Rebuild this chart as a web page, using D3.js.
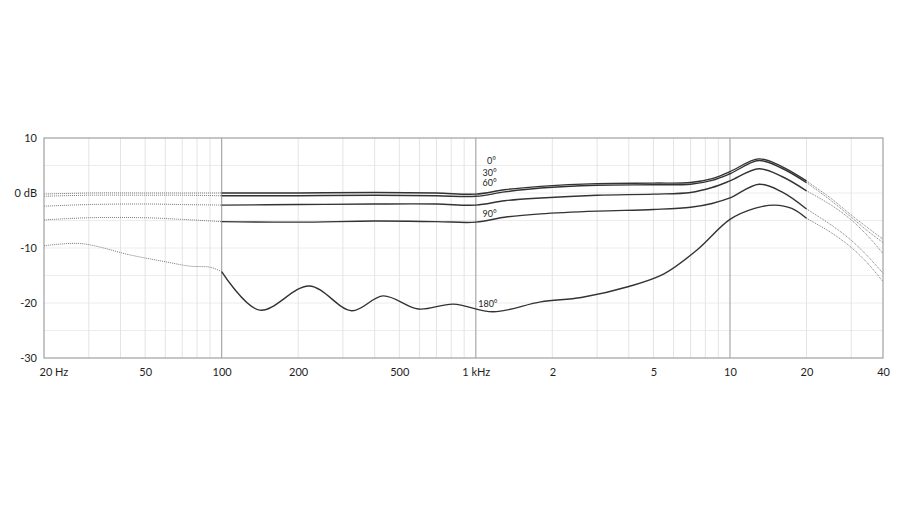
<!DOCTYPE html>
<html>
<head>
<meta charset="utf-8">
<script src="https://cdn.jsdelivr.net/npm/d3@7"></script>
<style>
  html, body { margin: 0; padding: 0; background: #fff; }
  svg text { font-family: Lato, "Open Sans", sans-serif; fill: #1e1e1e; }
</style>
</head>
<body>
<svg id="chart" width="906" height="511"></svg>
<script>
(function() {
  // frequency grids (Hz)
  var freqLow = [20, 30, 50, 70, 100];
  var freqMid = [100, 200, 400, 700, 1000, 1300, 1800, 3000, 5000, 7000, 8500, 10000, 13000, 16000, 20000];
  var freqHigh = [20000, 25000, 30000, 35000, 40000];
  var freq180Low = [20, 28, 44, 60, 75, 90, 100];
  var freq180Mid = [100, 141, 221, 325, 432, 594, 815, 1170, 1800, 2600, 4000, 5500, 7400, 10000, 12500, 15000, 17500, 20000];

  // response in dB per angle
  var deg0Low = [-0.2, 0.0, 0.0, 0.0, 0.0];
  var deg0Mid = [0.0, 0.0, 0.1, 0.0, -0.2, 0.6, 1.2, 1.7, 1.8, 1.9, 2.6, 3.9, 6.2, 4.8, 2.2];
  var deg0High = [2.2, -1.0, -4.0, -6.4, -8.4];

  var deg30Low = [-0.6, -0.4, -0.4, -0.4, -0.5];
  var deg30Mid = [-0.5, -0.5, -0.4, -0.5, -0.6, 0.2, 0.9, 1.4, 1.5, 1.6, 2.3, 3.5, 5.9, 4.5, 1.9];
  var deg30High = [1.9, -1.4, -4.4, -7.0, -9.0];

  var deg60Low = [-2.4, -2.1, -2.0, -2.1, -2.2];
  var deg60Mid = [-2.2, -2.1, -2.0, -2.0, -2.2, -1.4, -0.9, -0.4, -0.2, 0.1, 1.0, 2.2, 4.4, 3.0, 0.4];
  var deg60High = [0.4, -2.2, -4.9, -7.9, -11.0];

  var deg90Low = [-4.9, -4.5, -4.5, -4.8, -5.2];
  var deg90Mid = [-5.2, -5.3, -5.1, -5.2, -5.3, -4.4, -3.8, -3.3, -3.0, -2.6, -1.9, -0.9, 1.6, 0.2, -2.9];
  var deg90High = [-2.9, -5.8, -8.6, -11.6, -14.6];

  var deg180Low = [-9.6, -9.2, -11.3, -12.5, -13.3, -13.5, -14.3];
  var deg180Mid = [-14.3, -21.3, -16.9, -21.4, -18.7, -21.1, -20.2, -21.6, -19.8, -19.0, -17.0, -14.7, -10.4, -4.8, -2.8, -2.2, -2.8, -4.6];
  var deg180High = [-4.6, -7.2, -9.9, -12.9, -16.1];

  var angleLabels = ['0°', '30°', '60°', '90°', '180°'];

  var xTickValues = [20, 50, 100, 200, 500, 1000, 2000, 5000, 10000, 20000, 40000];
  var xTickLabels = ['20 Hz', '50', '100', '200', '500', '1 kHz', '2', '5', '10', '20', '40'];
  var yTickValues = [10, 0, -10, -20, -30];
  var yTickLabels = ['10', '0 dB', '-10', '-20', '-30'];

  var zip = function(fs, vs) {
    return fs.map(function(f, i) { return [f, vs[i]]; });
  };

  var series = [
    { low: zip(freqLow, deg0Low), mid: zip(freqMid, deg0Mid), high: zip(freqHigh, deg0High) },
    { low: zip(freqLow, deg30Low), mid: zip(freqMid, deg30Mid), high: zip(freqHigh, deg30High) },
    { low: zip(freqLow, deg60Low), mid: zip(freqMid, deg60Mid), high: zip(freqHigh, deg60High) },
    { low: zip(freqLow, deg90Low), mid: zip(freqMid, deg90Mid), high: zip(freqHigh, deg90High) },
    { low: zip(freq180Low, deg180Low), mid: zip(freq180Mid, deg180Mid), high: zip(freqHigh, deg180High) }
  ];

  // label anchor points, in (Hz, dB)
  var labelAt = [[1106, 5.2], [1063, 3.15], [1063, 1.33], [1063, -4.3], [1022, -20.7]];

  var svg = d3.select('#chart');
  var left = 44, right = 883, top = 138, bottom = 358;

  var x = d3.scaleLog().domain([20, 40000]).range([left, right]);
  var y = d3.scaleLinear().domain([-30, 10]).range([bottom, top]);

  var grid = svg.append('g');

  // horizontal grid every 5 dB
  grid.selectAll('line.h').data(d3.range(-25, 10, 5)).enter().append('line')
    .attr('class', 'h')
    .attr('x1', left).attr('x2', right)
    .attr('y1', function(d) { return y(d); }).attr('y2', function(d) { return y(d); })
    .attr('stroke', '#ececec').attr('stroke-width', 1);

  // minor vertical grid
  var minor = [];
  [10, 100, 1000, 10000].forEach(function(dec) {
    for (var m = 2; m <= 9; m++) {
      var f = m * dec;
      if (f > 20 && f < 40000) minor.push(f);
    }
  });
  grid.selectAll('line.v').data(minor).enter().append('line')
    .attr('class', 'v')
    .attr('y1', top).attr('y2', bottom)
    .attr('x1', function(d) { return x(d); }).attr('x2', function(d) { return x(d); })
    .attr('stroke', '#e4e4e4').attr('stroke-width', 1);

  grid.selectAll('line.major').data([100, 1000, 10000]).enter().append('line')
    .attr('class', 'major')
    .attr('y1', top).attr('y2', bottom)
    .attr('x1', function(d) { return x(d); }).attr('x2', function(d) { return x(d); })
    .attr('stroke', '#a8a8a8').attr('stroke-width', 1.2);

  // frame
  svg.append('rect')
    .attr('x', left).attr('y', top)
    .attr('width', right - left).attr('height', bottom - top)
    .attr('fill', 'none').attr('stroke', '#a0a0a0').attr('stroke-width', 1.2);

  var line = d3.line()
    .x(function(d) { return x(d[0]); })
    .y(function(d) { return y(d[1]); })
    .curve(d3.curveCatmullRom.alpha(0.5));

  var curves = svg.append('g');
  series.forEach(function(s) {
    curves.append('path').attr('d', line(s.low))
      .attr('fill', 'none').attr('stroke', '#7a7a7a').attr('stroke-width', 1)
      .attr('stroke-dasharray', '1,1');
    curves.append('path').attr('d', line(s.high))
      .attr('fill', 'none').attr('stroke', '#7a7a7a').attr('stroke-width', 1)
      .attr('stroke-dasharray', '1,1');
    curves.append('path').attr('d', line(s.mid))
      .attr('fill', 'none').attr('stroke', '#333').attr('stroke-width', 1.4);
  });

  // angle labels
  svg.append('g').selectAll('text').data(angleLabels).enter().append('text')
    .attr('x', function(d, i) { return x(labelAt[i][0]); })
    .attr('y', function(d, i) { return y(labelAt[i][1]); })
    .attr('font-size', 9)
    .text(function(d) { return d; });

  // axes
  var xAxis = d3.axisBottom(x)
    .tickValues(xTickValues)
    .tickFormat(function(d, i) { return xTickLabels[i]; })
    .tickSize(0).tickPadding(10);
  var gx = svg.append('g').attr('transform', 'translate(0,' + bottom + ')').call(xAxis);
  gx.select('.domain').remove();
  gx.selectAll('text').attr('font-size', 11).attr('fill', '#1e1e1e')
    .attr('font-family', 'Lato, "Open Sans", sans-serif');
  gx.selectAll('.tick').filter(function(d) { return d === 20; }).select('text')
    .attr('text-anchor', 'start').attr('dx', -5);

  var yAxis = d3.axisLeft(y)
    .tickValues(yTickValues)
    .tickFormat(function(d, i) { return yTickLabels[i]; })
    .tickSize(0).tickPadding(7);
  var gy = svg.append('g').attr('transform', 'translate(' + left + ',0)').call(yAxis);
  gy.select('.domain').remove();
  gy.selectAll('text').attr('font-size', 11).attr('fill', '#1e1e1e')
    .attr('font-family', 'Lato, "Open Sans", sans-serif');
}).call(this);
</script>
</body>
</html>
